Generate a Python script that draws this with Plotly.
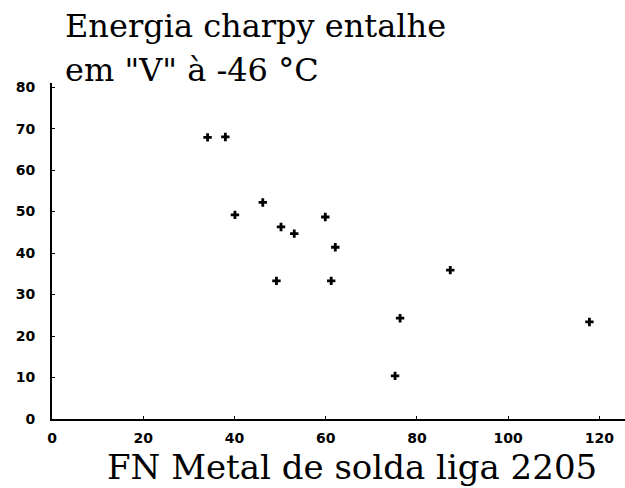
import plotly.graph_objects as go

fn_values = [34.1, 38.0, 40.1, 46.2, 50.2, 53.1, 59.9, 62.1, 49.2, 61.2, 76.3, 75.2, 87.3, 117.8]
energy_values = [67.9, 68.0, 49.2, 52.2, 46.3, 44.7, 48.7, 41.4, 33.3, 33.3, 24.3, 10.4, 35.9, 23.4]
x_ticks = [0, 20, 40, 60, 80, 100, 120]
y_ticks = [0, 10, 20, 30, 40, 50, 60, 70, 80]

title_line1 = "Energia charpy entalhe"
title_line2 = 'em "V" à -46 °C'
x_title = "FN Metal de solda liga 2205"

fig = go.Figure()
fig.add_trace(go.Scatter(
    x=fn_values, y=energy_values, mode="markers",
    marker=dict(symbol="cross", size=7, color="black", line=dict(width=0)),
    showlegend=False, hoverinfo="skip",
))

tickfont = dict(family="DejaVu Sans", size=14, color="black")
serif = "DejaVu Serif"

fig.update_layout(
    width=625, height=488,
    margin=dict(l=52, r=0, t=83, b=69, autoexpand=False),
    paper_bgcolor="white", plot_bgcolor="white",
    xaxis=dict(range=[0, 125.6], tickvals=x_ticks, ticktext=[f"<b>{v}</b>" for v in x_ticks],
               showline=True, linecolor="black", linewidth=2, ticks="inside", ticklen=3,
               tickcolor="black", showgrid=False, zeroline=False, tickfont=tickfont,
               automargin=False, ticklabelstandoff=5),
    yaxis=dict(range=[0, 81], tickvals=y_ticks, ticktext=[f"<b>{v}</b>" for v in y_ticks],
               showline=True, linecolor="black", linewidth=2, ticks="inside", ticklen=3,
               tickcolor="black", showgrid=False, zeroline=False, tickfont=tickfont,
               automargin=False, ticklabelstandoff=12),
    annotations=[
        dict(text=title_line1, xref="paper", yref="paper", x=(63-52)/573, y=(419-26)/336,
             xanchor="left", yanchor="middle", showarrow=False,
             font=dict(family=serif, size=32, color="black")),
        dict(text=title_line2, xref="paper", yref="paper", x=(63-52)/573, y=(419-70)/336,
             xanchor="left", yanchor="middle", showarrow=False,
             font=dict(family=serif, size=32, color="black")),
        dict(text=x_title, xref="paper", yref="paper", x=(106-52)/573, y=(419-467)/336,
             xanchor="left", yanchor="middle", showarrow=False, borderpad=0,
             font=dict(family=serif, size=34, color="black")),
    ],
)

fig.write_html("out.html", config={"displayModeBar": False},
               post_script="document.body.style.margin='0';")
